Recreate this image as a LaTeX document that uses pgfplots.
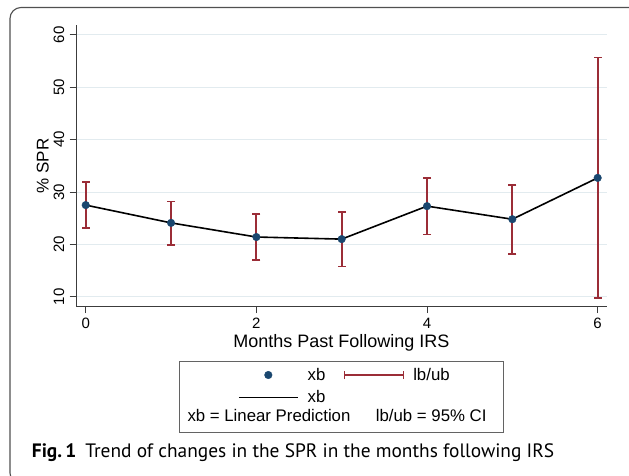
\documentclass[border=0pt]{standalone}
\usepackage{fontspec}
\setmainfont{Liberation Sans}
\newfontfamily\capfont{PT Sans}
\usepackage{pgfplots}
\usepackage{pgfplotstable}
\pgfplotsset{compat=1.18}
\definecolor{navy}{RGB}{26,71,111}
\definecolor{cranberry}{RGB}{155,45,55}
\definecolor{gridc}{RGB}{226,235,239}
\definecolor{axc}{RGB}{60,60,60}
\definecolor{framec}{RGB}{80,80,80}
\pgfplotstableread{
x y
0 27.5
1 24.1
2 21.4
3 21.0
4 27.3
5 24.8
6 32.7
}\datatable
\begin{document}
\begin{tikzpicture}
\useasboundingbox (0pt,0pt) rectangle (629pt,-476pt);
\fill[white] (0pt,0pt) rectangle (629pt,-476pt);
\begin{scope}
\clip (0pt,0pt) rectangle (629pt,-476pt);
\draw[framec, line width=1.1pt, rounded corners=11pt] (10pt,-7.5pt) rectangle (640pt,-484pt);
\end{scope}
\begin{axis}[
  at={(76pt,-306.7pt)}, anchor=south west,
  scale only axis, width=530.7pt, height=281.7pt,
  xmin=-0.114, xmax=6.106, ymin=8.09, ymax=61.9,
  axis lines*=left,
  axis line style={axc, line width=1pt},
  xtick={0,2,4,6}, ytick={10,20,30,40,50,60},
  tick align=outside, major tick length=6.5pt,
  tick style={axc, line width=1pt},
  ymajorgrids, grid style={gridc, line width=1pt},
  /pgf/number format/assume math mode=true,
  ticklabel style={font=\fontsize{15}{17}\selectfont},
  yticklabel style={rotate=90, anchor=south, inner sep=5pt},
  xticklabel style={anchor=north, inner sep=5pt},
  xlabel={Months Past Following IRS},
  ylabel={\% SPR},
  every axis x label/.style={at={(rel axis cs:0.5,0)}, yshift=-40.6pt, anchor=base, font=\fontsize{18}{21}\selectfont},
  every axis y label/.style={at={(rel axis cs:0,0.5)}, xshift=-33.3pt, rotate=90, anchor=center, font=\fontsize{17}{20}\selectfont},
  clip=false,
  legend columns=2,
  legend cell align=left,
  legend style={at={(rel axis cs:0.3053,-0.2029)}, anchor=north west, draw=none, fill=none, inner sep=0pt, outer sep=0pt,
    font=\fontsize{16.8}{20}\selectfont, nodes={inner sep=2pt},
    /tikz/every odd column/.append style={column sep=7pt},
    /tikz/every even column/.append style={column sep=16.3pt}},
  cibar/.style={cranberry, line width=1.8pt, mark=-, mark size=4pt, mark options={solid, line width=1.6pt}, forget plot},
]
\addplot[cibar] coordinates {(0,23.1) (0,31.9)};
\addplot[cibar] coordinates {(1,19.9) (1,28.2)};
\addplot[cibar] coordinates {(2,17.0) (2,25.8)};
\addplot[cibar] coordinates {(3,15.8) (3,26.2)};
\addplot[cibar] coordinates {(4,21.9) (4,32.7)};
\addplot[cibar] coordinates {(5,18.2) (5,31.3)};
\addplot[cibar] coordinates {(6,9.8) (6,55.7)};
\addplot[black, line width=1.6pt, mark=none, forget plot] table[x=x, y=y]{\datatable};
\addplot[only marks, mark=*, mark size=3.8pt, navy, mark options={draw=navy, fill=navy}, forget plot] table[x=x, y=y]{\datatable};
\addlegendimage{legend image code/.code={\path[draw=none,fill=none] (0pt,-11.15pt) rectangle (59pt,11.15pt); \fill[navy] (29.5pt,0pt) circle (3.8pt);}}
\addlegendentry{xb}
\addlegendimage{legend image code/.code={\path[draw=none,fill=none] (0pt,-11.15pt) rectangle (59pt,11.15pt); \draw[cranberry, line width=1.6pt] (0pt,0pt) -- (59pt,0pt) (0pt,-4pt) -- (0pt,4pt) (59pt,-4pt) -- (59pt,4pt);}}
\addlegendentry{lb/ub}
\addlegendimage{legend image code/.code={\path[draw=none,fill=none] (0pt,-11.15pt) rectangle (59pt,11.15pt); \draw[black, line width=1.6pt] (0pt,0pt) -- (59pt,0pt);}}
\addlegendentry{xb}
\end{axis}
\draw[axc!80, line width=1pt] (179pt,-361pt) rectangle (503pt,-432pt);
\node[anchor=base west, inner sep=0pt, font=\fontsize{16.8}{20}\selectfont] at (187.3pt,-421pt) {xb = Linear Prediction};
\node[anchor=base west, inner sep=0pt, font=\fontsize{16.8}{20}\selectfont] at (375.7pt,-421pt) {lb/ub = 95\% CI};
\node[anchor=base west, inner sep=0pt, font=\capfont\fontsize{19.4}{22}\selectfont] at (31.7pt,-457.3pt) {\textbf{Fig.\,1}\hspace{9pt}Trend of changes in the SPR in the months following IRS};
\end{tikzpicture}
\end{document}
